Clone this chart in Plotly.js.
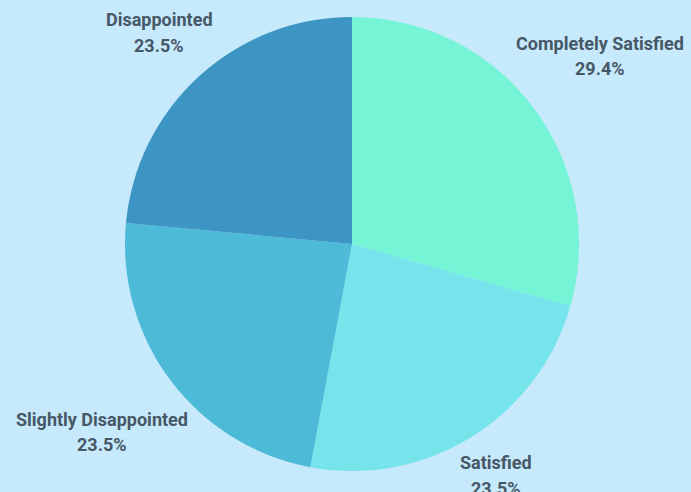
<!DOCTYPE html>
<html>
<head>
<meta charset="utf-8">
<script src="https://cdn.plot.ly/plotly-3.0.1.min.js"></script>
<style>html,body{margin:0;padding:0;background:#c6e9fc;}#chart{width:691px;height:492px;}</style>
</head>
<body>
<div id="chart"></div>
<script>
const categories = ["Completely Satisfied", "Satisfied", "Slightly Disappointed", "Disappointed"];
const counts = [5, 4, 4, 4];
const sliceColors = ["#75f4d6", "#76e4eb", "#4dbad8", "#3d95c3"];

const W = 691, H = 492;
const M = {l: 125, r: 112, t: 17, b: 21};
const R = (W - M.l - M.r) / 2;
const cx = M.l + R, cy = M.t + R;
const FONT_FAMILY = "Roboto";
const FONT_SIZE = 18;
const labelFont = {family: FONT_FAMILY + ", 'Open Sans', sans-serif", size: FONT_SIZE, color: "#465866"};

const ctx = document.createElement("canvas").getContext("2d");
ctx.font = "bold " + FONT_SIZE + "px " + FONT_FAMILY;

const total = counts.reduce((a, b) => a + b, 0);
const annotations = [];
let cum = 0;
categories.forEach((name, i) => {
  const frac = counts[i] / total;
  const mid = (cum + frac / 2) * 2 * Math.PI;
  cum += frac;
  const pct = (frac * 100).toFixed(1) + "%";
  const ux = Math.sin(mid), uy = -Math.cos(mid);
  const hw = Math.max(ctx.measureText(name).width, ctx.measureText(pct).width) / 2;
  const hh = 22;
  const D = R + 12 + 0.9 * (hw * Math.abs(ux) + hh * Math.abs(uy));
  const py = cy + uy * D;
  const px = cx + ux * D;
  const toX = p => (p - M.l) / (2 * R);
  const toY = p => 1 - (p - M.t) / (2 * R);
  annotations.push({xref: "paper", yref: "paper", x: toX(px), y: toY(py - 13), text: "<b>" + name + "</b>",
    showarrow: false, xanchor: "center", yanchor: "middle", font: labelFont});
  annotations.push({xref: "paper", yref: "paper", x: toX(px), y: toY(py + 12.5), text: "<b>" + pct + "</b>",
    showarrow: false, xanchor: "center", yanchor: "middle", font: labelFont});
});

const data = [{
  type: "pie",
  labels: categories,
  values: counts,
  sort: false,
  direction: "clockwise",
  rotation: 0,
  textinfo: "none",
  hoverinfo: "label+percent",
  marker: {colors: sliceColors, line: {width: 0}},
  showlegend: false
}];

const layout = {
  width: W, height: H,
  margin: M,
  paper_bgcolor: "#c6e9fc",
  plot_bgcolor: "#c6e9fc",
  showlegend: false,
  annotations: annotations
};

Plotly.newPlot("chart", data, layout, {displayModeBar: false, staticPlot: true});
</script>
</body>
</html>
